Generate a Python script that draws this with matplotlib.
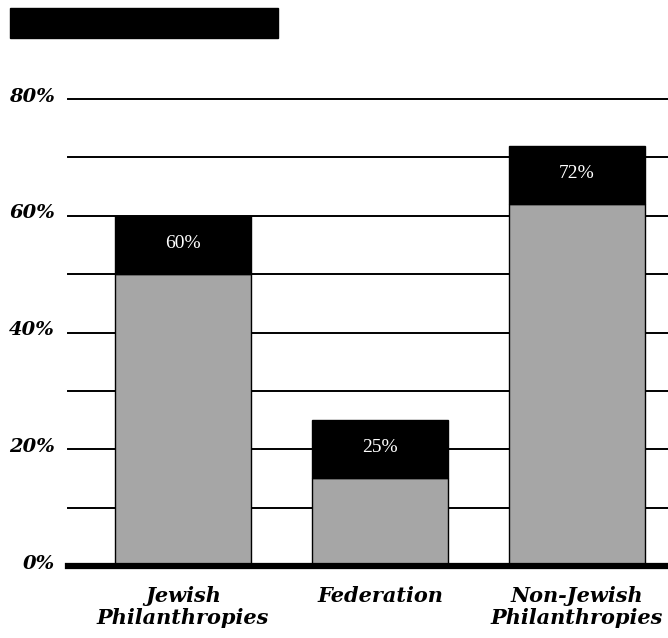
import matplotlib
matplotlib.use("Agg")
import matplotlib.pyplot as plt
from matplotlib.patches import Rectangle

categories = ["Jewish\nPhilanthropies", "Federation", "Non-Jewish\nPhilanthropies"]
gray_part = [50, 15, 62]
totals = [60, 25, 72]
value_labels = ["60%", "25%", "72%"]
yticks = [0, 20, 40, 60, 80]
ytick_labels = ["0%", "20%", "40%", "60%", "80%"]
gridlines = [10, 20, 30, 40, 50, 60, 70, 80]

W, H = 668, 638
fig = plt.figure(figsize=(W / 100, H / 100), dpi=100)
ax = fig.add_axes([68 / W, (H - 566) / H, 600 / W, 467 / H])

x = list(range(len(categories)))
black_part = [t - g for t, g in zip(totals, gray_part)]
width = 0.695

for g in gridlines:
    ax.axhline(g, color="black", lw=1.4, zorder=1, clip_on=False)

ax.bar(x, gray_part, width=width, color="#a6a6a6", edgecolor="black", lw=1.0, zorder=2)
ax.bar(x, black_part, width=width, bottom=gray_part, color="black", edgecolor="black", lw=1.0, zorder=2)

for xi, g, t, lab in zip(x, gray_part, totals, value_labels):
    ax.text(xi, (g + t) / 2 + 0.3, lab, ha="center", va="center", color="white",
            fontsize=14, family="Liberation Serif", zorder=3)

ax.axhline(0, color="black", lw=4.5, zorder=4, clip_on=False)

ax.set_xlim(-0.584, 2.462)
ax.set_ylim(0, 80)
for s in ax.spines.values():
    s.set_visible(False)
ax.set_xticks([])
ax.set_yticks([])

for v, lab in zip(yticks, ytick_labels):
    ax.text(-0.584 - 13 / 197, v + 0.4, lab, ha="right", va="center", fontsize=14,
            fontweight="bold", fontstyle="italic", family="DejaVu Serif")

for xi, lab in zip(x, categories):
    ax.text(xi, -3.4, lab, ha="center", va="top", fontsize=15, fontweight="bold",
            fontstyle="italic", family="DejaVu Serif", linespacing=1.15)

fig.patches.append(Rectangle((10 / W, (H - 38) / H), 268 / W, 30 / H,
                             transform=fig.transFigure, color="black", figure=fig))

fig.savefig("out.png", dpi=100, facecolor="white")
